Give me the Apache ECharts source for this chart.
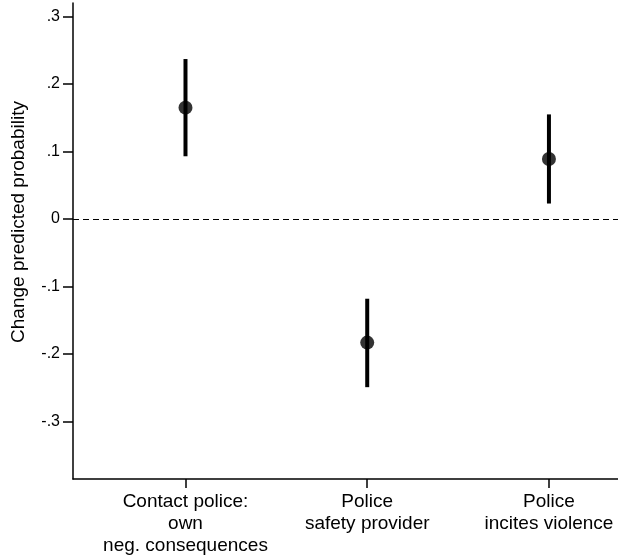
<!DOCTYPE html>
<html>
<head>
<meta charset="utf-8">
<script src="https://cdn.jsdelivr.net/npm/echarts@6/dist/echarts.min.js"></script>
<style>
  html, body { margin: 0; padding: 0; background: #fff; }
  #chart { width: 618px; height: 557px; }
</style>
</head>
<body>
<div id="chart"></div>
<script>
// chart data
const categories = ['Contact police:\nown\nneg. consequences', 'Police\nsafety provider', 'Police\nincites violence'];
const positions = [1, 2, 3];
const estimates = [0.165, -0.183, 0.089];
const lower = [0.093, -0.249, 0.023];
const upper = [0.237, -0.118, 0.155];
const yTicks = [-0.3, -0.2, -0.1, 0, 0.1, 0.2, 0.3];

const font = '"Liberation Sans", Arial, Helvetica, sans-serif';

const chart = echarts.init(document.getElementById('chart'));

function fmtY(v) {
  if (Math.abs(v) < 1e-9) return '0';
  return (v < 0 ? '-' : '') + '.' + Math.round(Math.abs(v) * 10);
}

const option = {
  animation: false,
  grid: { left: 73, right: 0, top: 3, bottom: 77 },
  xAxis: {
    type: 'value',
    min: 0.381,
    max: 3.38,
    splitLine: { show: false },
    axisLine: { show: true, onZero: false, lineStyle: { color: '#000', width: 1.5 } },
    axisTick: { show: true, customValues: positions, length: 9, lineStyle: { color: '#000', width: 1.5 } },
    axisLabel: {
      customValues: positions,
      formatter: (v) => categories[positions.indexOf(Math.round(v))] || '',
      color: '#000',
      fontFamily: font,
      fontSize: 19,
      lineHeight: 22,
      margin: 12,
    },
  },
  yAxis: {
    type: 'value',
    min: -0.385,
    max: 0.32,
    splitLine: { show: false },
    axisLine: { show: true, onZero: false, lineStyle: { color: '#000', width: 1.5 } },
    axisTick: { show: true, customValues: yTicks, length: 10, lineStyle: { color: '#000', width: 1.5 } },
    axisLabel: {
      customValues: yTicks,
      formatter: fmtY,
      color: '#000',
      fontFamily: font,
      fontSize: 16,
      margin: 13,
    },
  },
  graphic: [
    {
      type: 'text',
      x: 18.5,
      y: 222,
      rotation: Math.PI / 2,
      style: {
        text: 'Change predicted probability',
        fill: '#000',
        font: '19px ' + font,
        align: 'center',
        verticalAlign: 'middle',
      },
    },
  ],
  series: [
    {
      type: 'custom',
      data: positions.map((p, i) => [p, lower[i], upper[i]]),
      renderItem: (params, api) => {
        const a = api.coord([api.value(0), api.value(1)]);
        const b = api.coord([api.value(0), api.value(2)]);
        return {
          type: 'line',
          shape: { x1: a[0], y1: a[1], x2: b[0], y2: b[1] },
          style: { stroke: '#000', lineWidth: 4 },
        };
      },
      z: 2,
    },
    {
      type: 'scatter',
      data: positions.map((p, i) => [p, estimates[i]]),
      symbol: 'circle',
      symbolSize: 14,
      itemStyle: { color: '#000' },
      z: 3,
      markLine: {
        silent: true,
        symbol: 'none',
        label: { show: false },
        lineStyle: { color: '#000', type: [6, 4], width: 1.2 },
        data: [{ yAxis: 0 }],
      },
    },
  ],
};

chart.setOption(option);
</script>
</body>
</html>
